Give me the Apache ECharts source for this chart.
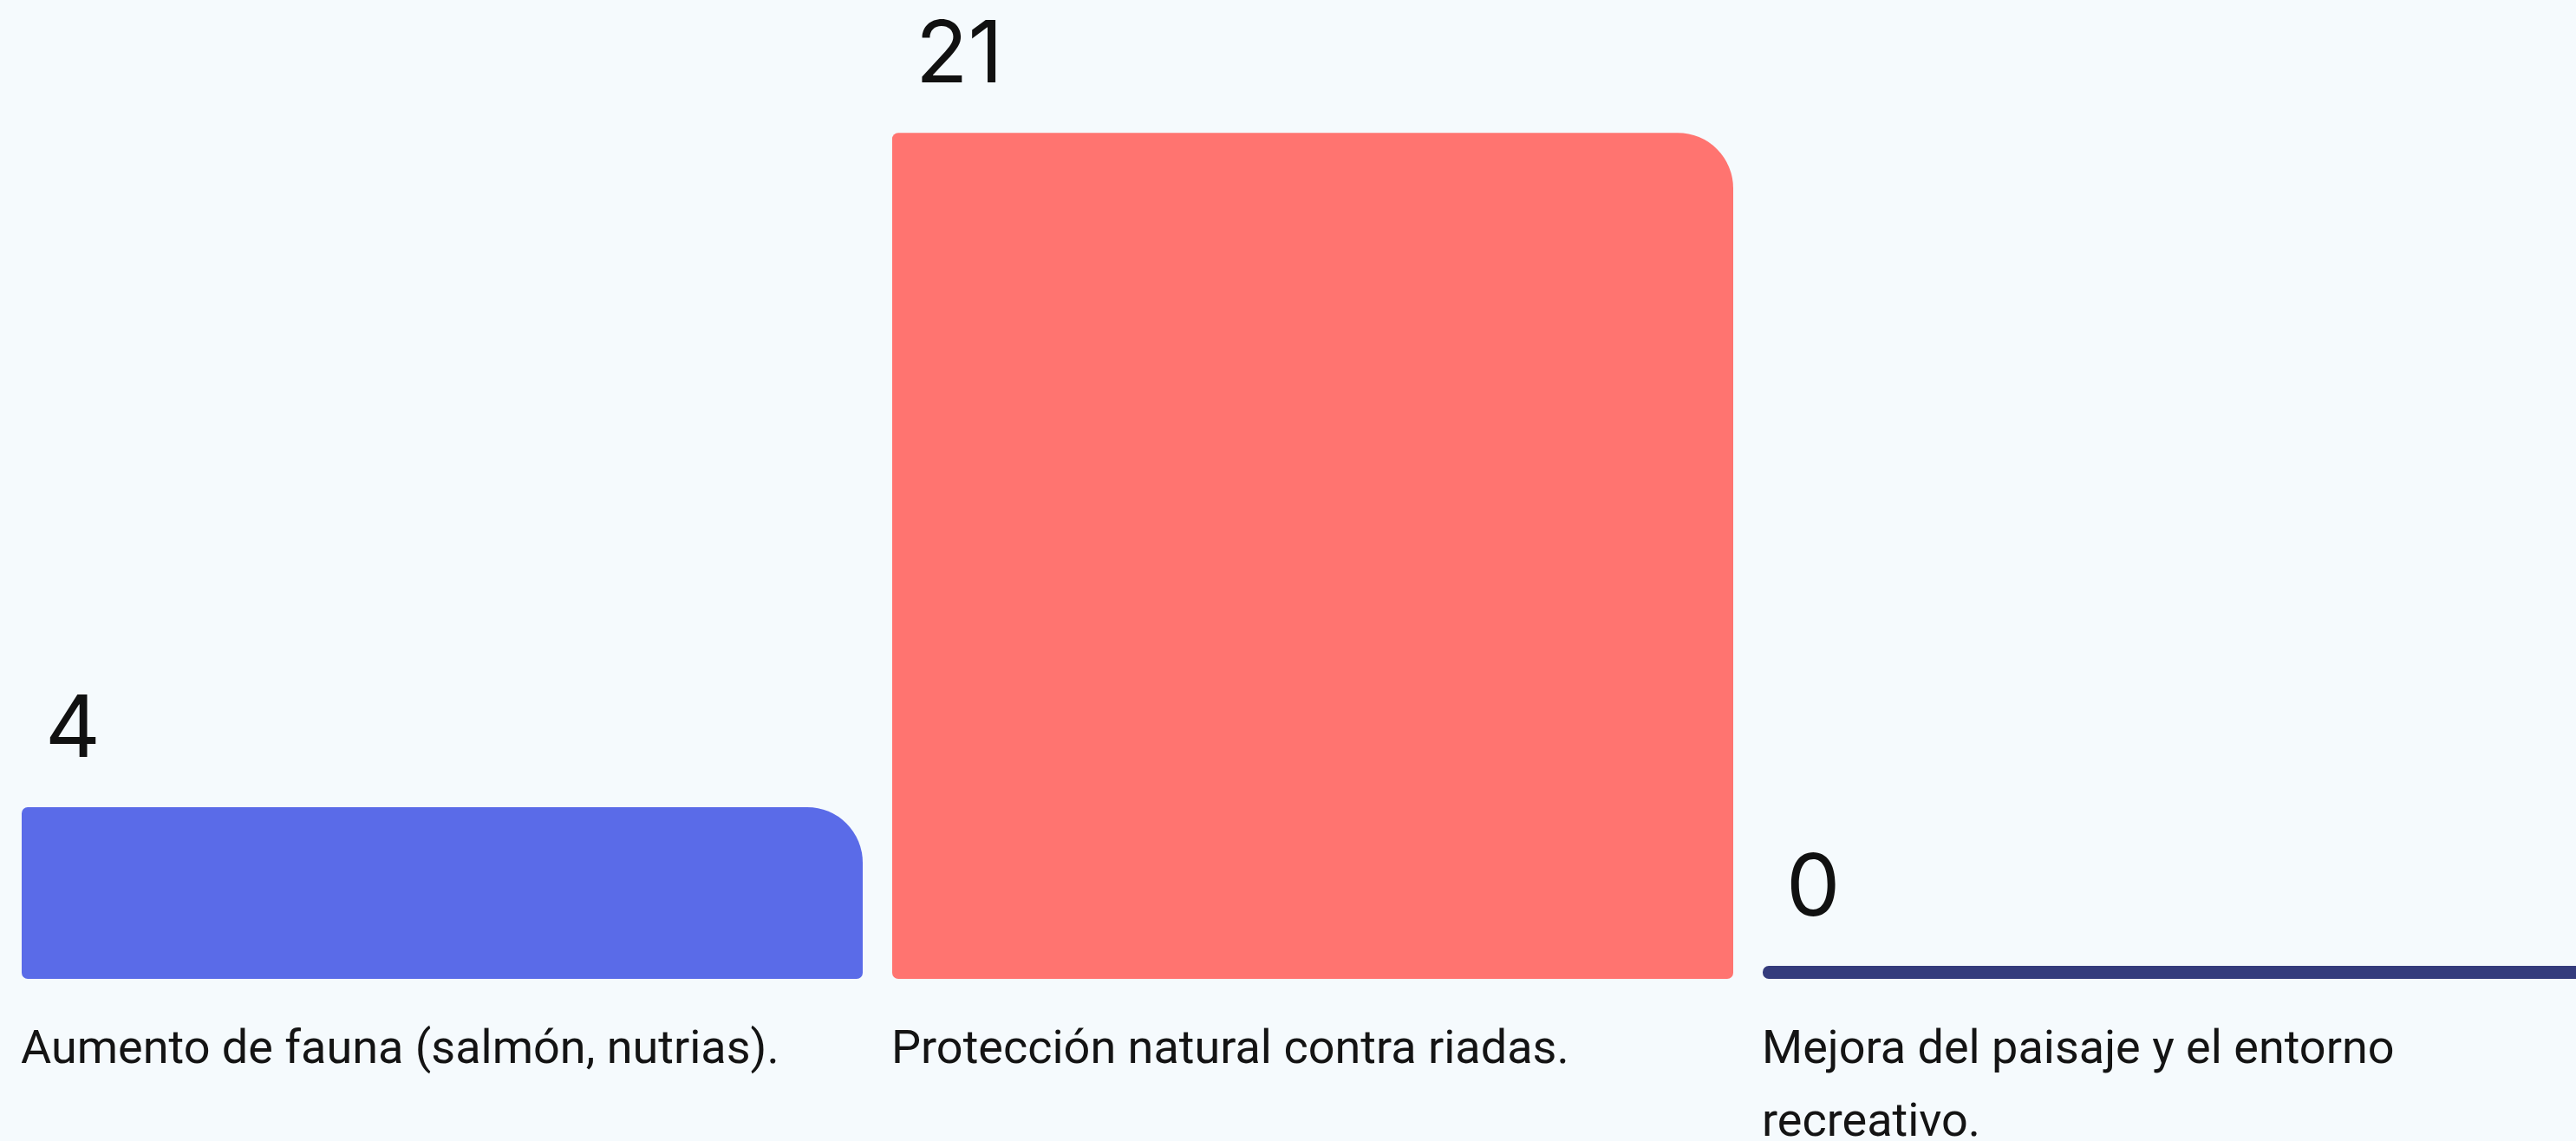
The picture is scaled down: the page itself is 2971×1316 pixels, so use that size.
<!DOCTYPE html>
<html>
<head>
<meta charset="utf-8">
<script src="https://cdn.jsdelivr.net/npm/echarts@6/dist/echarts.min.js"></script>
<style>
  html, body { margin: 0; padding: 0; background: #f5fafd; }
  #chart { width: 2971px; height: 1316px; }
</style>
</head>
<body>
<div id="chart"></div>
<script>
const categories = [
  'Aumento de fauna (salmón, nutrias).',
  'Protección natural contra riadas.',
  'Mejora del paisaje y el entorno recreativo.'
];
const values = [4, 21, 0];
const barColors = ['#5a6be8', '#ff7470', '#343b7c'];

const AXIS_MIN = -0.33;
const GAP_RATIO = 34 / 1004;

const chart = echarts.init(document.getElementById('chart'), null, { renderer: 'canvas' });

chart.setOption({
  backgroundColor: '#f5fafd',
  animation: false,
  grid: { left: 8, top: 16, width: 3012, bottom: 187, containLabel: false, outerBoundsMode: 'none' },
  xAxis: [
    {
      type: 'category',
      data: categories,
      show: false
    },
    {
      type: 'category',
      data: categories.concat(['']),
      boundaryGap: false,
      position: 'bottom',
      axisLine: { show: false },
      axisTick: { show: false },
      splitLine: { show: false },
      axisLabel: {
        interval: 0,
        align: 'left',
        verticalAlign: 'top',
        margin: 41,
        padding: [0, 0, 0, 16],
        width: 900,
        overflow: 'break',
        fontSize: 54,
        lineHeight: 84,
        fontFamily: 'Roboto',
        color: '#141414'
      }
    }
  ],
  yAxis: {
    type: 'value',
    min: AXIS_MIN,
    max: 24,
    show: false,
    splitLine: { show: false }
  },
  series: [
    {
      type: 'custom',
      xAxisIndex: 0,
      clip: false,
      data: values.map((v, i) => [i, v]),
      renderItem: function (params, api) {
        const i = api.value(0);
        const v = api.value(1);
        const top = api.coord([i, v]);
        const base = api.coord([i, AXIS_MIN]);
        const step = api.size([1, 0])[0];
        const bw = step * (1 - GAP_RATIO);
        const x = top[0] - bw / 2;
        const h = base[1] - top[1];
        const small = 7;
        const big = Math.max(0, Math.min(64, h - small));
        return {
          type: 'group',
          children: [
            {
              type: 'rect',
              shape: { x: x, y: top[1], width: bw, height: h, r: [small, big, small, small] },
              style: { fill: barColors[i] }
            },
            {
              type: 'text',
              style: {
                text: String(v),
                x: x + 27,
                y: top[1] - 88,
                align: 'left',
                verticalAlign: 'middle',
                fontSize: 99,
                fontFamily: 'Inter',
                fill: '#111111'
              }
            }
          ]
        };
      }
    }
  ]
});
</script>
</body>
</html>
